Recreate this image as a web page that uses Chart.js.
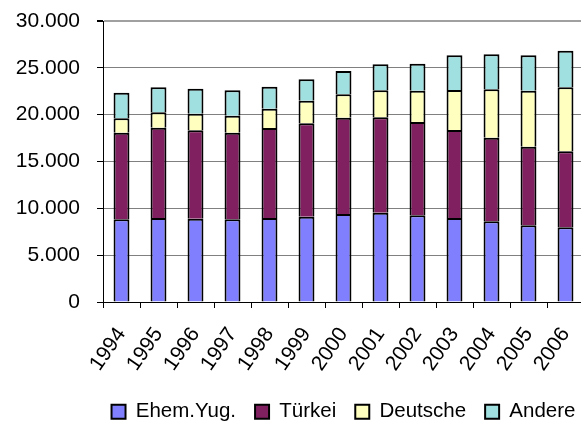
<!DOCTYPE html>
<html>
<head>
<meta charset="utf-8">
<script src="https://cdn.jsdelivr.net/npm/chart.js@4.4.1/dist/chart.umd.min.js"></script>
<style>
html,body{margin:0;padding:0;background:#fff;overflow:hidden;width:581px;height:425px;}
#wrap{position:absolute;left:0;top:0;width:687px;height:432px;}
</style>
</head>
<body>
<div id="wrap"><canvas id="c" width="687" height="432"></canvas></div>
<script>
const years = ["1994","1995","1996","1997","1998","1999","2000","2001","2002","2003","2004","2005","2006"];
const ehemYug = [8830, 8970, 8895, 8830, 8970, 9110, 9395, 9535, 9255, 8970, 8615, 8190, 7975];
const tuerkei = [9245, 9640, 9435, 9245, 9605, 9965, 10285, 10180, 9960, 9390, 8925, 8390, 8115];
const deutsche = [1535, 1640, 1775, 1815, 2065, 2415, 2490, 2885, 3345, 4270, 5165, 5980, 6830];
const andere = [2735, 2670, 2670, 2710, 2345, 2285, 2490, 2775, 2880, 3705, 3735, 3775, 3910];
const yTicks = [0, 5000, 10000, 15000, 20000, 25000, 30000];
const seriesNames = ["Ehem.Yug.", "Türkei", "Deutsche", "Andere"];
const seriesColors = ["#8080FF", "#802060", "#FFFFC0", "#A0E0E0"];

function fmt(v){ return String(v).replace(/\B(?=(\d{3})+(?!\d))/g, "."); }

const FONT = "'Liberation Sans', Arial, sans-serif";
const seriesData = [ehemYug, tuerkei, deutsche, andere];

new Chart(document.getElementById('c'), {
  type: 'bar',
  data: {
    labels: years,
    datasets: seriesNames.map((n, i) => ({
      label: n,
      data: seriesData[i],
      backgroundColor: seriesColors[i],
      borderColor: '#000',
      borderWidth: 2,
      barPercentage: 0.43,
      categoryPercentage: 1.0
    }))
  },
  options: {
    responsive: false,
    animation: false,
    devicePixelRatio: 1,
    layout: { padding: { left: 0, right: 0, top: 21, bottom: 0 } },
    plugins: {
      tooltip: { enabled: false },
      legend: {
        position: 'bottom',
        align: 'center',
        labels: {
          font: { family: FONT, size: 20.5 },
          color: '#000',
          boxWidth: 14,
          boxHeight: 14,
          padding: 19
        }
      }
    },
    scales: {
      x: {
        stacked: true,
        grid: { drawOnChartArea: false, drawTicks: true, tickLength: 6, tickColor: '#000', offset: true },
        border: { display: true, color: '#000', width: 1 },
        ticks: { font: { family: FONT, size: 21 }, color: '#000', minRotation: 55, maxRotation: 55, padding: 15, autoSkip: false },
        afterFit: s => { s.height = 80.5; s.paddingLeft = 0; s.paddingRight = 0; }
      },
      y: {
        stacked: true,
        min: 0, max: 30000,
        afterBuildTicks: s => { s.ticks = yTicks.map(v => ({ value: v })); },
        grid: {
          color: ctx => ctx.tick && ctx.tick.value === 30000 ? '#A0A0A0' : '#808080',
          lineWidth: ctx => ctx.tick && ctx.tick.value === 30000 ? 2 : 1,
          tickColor: '#000', tickLength: 6, drawTicks: true
        },
        border: { display: true, color: '#000', width: 1 },
        ticks: { font: { family: FONT, size: 21 }, color: '#000', padding: 17, callback: v => fmt(v) },
        afterFit: s => { s.width = 103; s.paddingTop = 0; s.paddingBottom = 0; }
      },
      y2: {
        position: 'right',
        display: true,
        grid: { display: false, drawTicks: false },
        border: { display: false },
        ticks: { display: false },
        afterFit: s => { s.width = 103; s.paddingTop = 0; s.paddingBottom = 0; }
      }
    }
  }
});
</script>
</body>
</html>
